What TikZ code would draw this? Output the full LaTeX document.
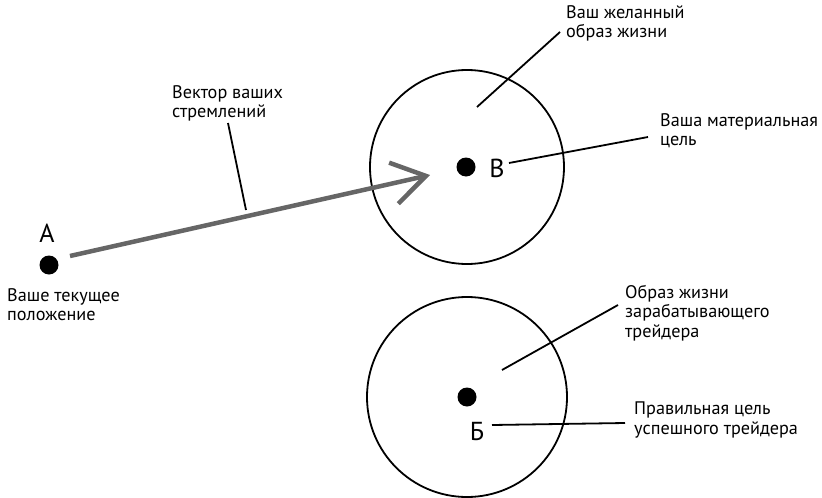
\documentclass[tikz,border=0pt]{standalone}
\usepackage{fontspec}
\setmainfont{PT Sans}
\usetikzlibrary{arrows.meta}
\definecolor{vecgray}{HTML}{666666}
\begin{document}
\begin{tikzpicture}[x=1pt,y=-1pt,
  ring/.style={draw=black,line width=1.8pt},
  spot/.style={circle,fill=black,inner sep=0pt,minimum size=19pt},
  letter/.style={font=\fontsize{26}{28}\selectfont,inner sep=0pt},
  caption/.style={font=\fontsize{18.2}{19.5}\selectfont,align=left,inner sep=0pt,anchor=north west},
  leader/.style={draw=black,line width=1.8pt},
  vector/.style={draw=vecgray,line width=4.5pt,-{Straight Barb[length=33pt,width=42pt,line width=4.5pt]}}]
  \useasboundingbox (0,0) rectangle (822,498);

  % circles of life styles
  \draw[ring] (467,167) circle (97);
  \draw[ring] (467,397) circle (100);

  % points
  \node[spot] (A) at (49,265) {};
  \node[spot] (B) at (466,167) {};
  \node[spot] (C) at (467,397) {};

  \node[letter] (Alab) at (47,233) {А};
  \node[letter] (Blab) at (497,168) {В};
  \node[letter] (Clab) at (477,431) {Б};

  % captions
  \node[caption] (tA) at (7,288) {Ваше текущее\\положение};
  \node[caption] (tV) at (172,85) {Вектор ваших\\стремлений};
  \node[caption] (tW) at (566,5) {Ваш желанный\\образ жизни};
  \node[caption] (tM) at (660,113) {Ваша материальная\\цель};
  \node[caption] (tT) at (625,285) {Образ жизни\\зарабатывающего\\трейдера};
  \node[caption] (tP) at (634,402) {Правильная цель\\успешного трейдера};

  % vector of aspirations
  \coordinate (vs) at (70,256);
  \coordinate (ve) at (430,175);
  \draw[vector] (vs) -- (ve);

  % leader lines
  \coordinate (lV1) at (228,123);
  \coordinate (lV2) at (246,210);
  \draw[leader] (lV1) -- (lV2);

  \coordinate (lW1) at (477,107);
  \coordinate (lW2) at (560,32);
  \draw[leader] (lW1) -- (lW2);

  \coordinate (lM1) at (509,163);
  \coordinate (lM2) at (648,137);
  \draw[leader] (lM1) -- (lM2);

  \coordinate (lT1) at (502,370);
  \coordinate (lT2) at (618,305);
  \draw[leader] (lT1) -- (lT2);

  \coordinate (lP1) at (492,425);
  \coordinate (lP2) at (625,423);
  \draw[leader] (lP1) -- (lP2);
\end{tikzpicture}
\end{document}
